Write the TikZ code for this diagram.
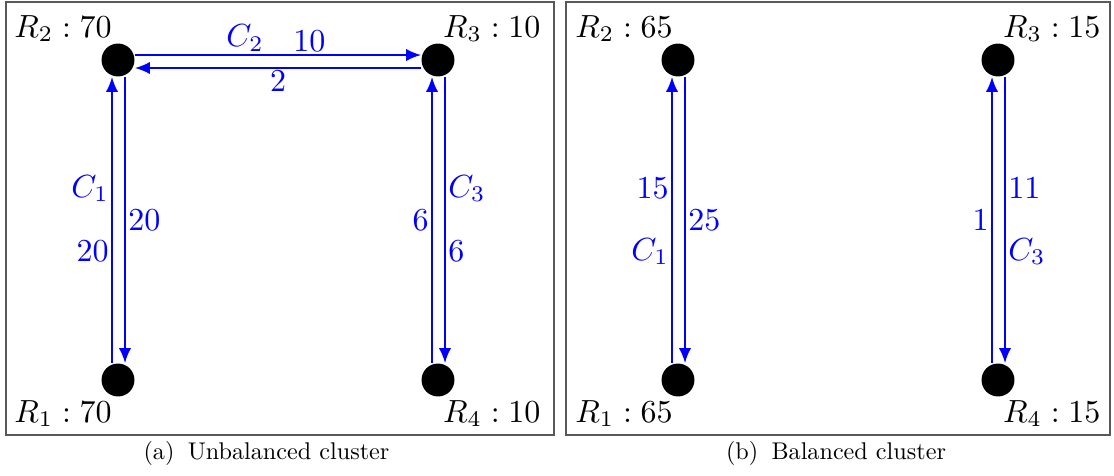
\documentclass[tikz,border=0pt]{standalone}
\usetikzlibrary{arrows.meta,calc}
\newcommand{\lbl}[1]{\scalebox{1.35}{$#1$}}
\begin{document}
\begin{tikzpicture}[x=0.422pt,y=-0.422pt,
  vert/.style={circle,fill=black,inner sep=0pt,minimum size=13.9pt},
  panelframe/.style={draw=black!65,line width=0.45pt},
  rlabel/.style={inner sep=0pt},
  flow/.style={draw=blue,line width=0.8pt,-{Latex[length=6.3pt,width=5.2pt]}},
  elab/.style={text=blue,inner sep=1.2pt},
  captext/.style={inner sep=0pt}]
\useasboundingbox (0,0) rectangle (1114,476);
% frames
\draw[panelframe] (6,2) rectangle (554,435);
\draw[panelframe] (566,2) rectangle (1110,435);
% left panel nodes
\node[vert] (A2) at (118,60) {};
\node[vert] (A3) at (438,60) {};
\node[vert] (A1) at (118,380) {};
\node[vert] (A4) at (438,380) {};
\node[rlabel,anchor=base west] (lA2) at (14,37) {\lbl{R_2:70}};
\node[rlabel,anchor=base east] (lA3) at (541,37) {\lbl{R_3:10}};
\node[rlabel,anchor=base west] (lA1) at (14,422) {\lbl{R_1:70}};
\node[rlabel,anchor=base east] (lA4) at (541,422) {\lbl{R_4:10}};
% left panel edges
\coordinate (a1u) at ($(A1.north)+(-6,0)$);
\coordinate (a2u) at ($(A2.south)+(-6,0)$);
\coordinate (a1d) at ($(A1.north)+(7,0)$);
\coordinate (a2d) at ($(A2.south)+(7,0)$);
\coordinate (a4u) at ($(A4.north)+(-6,0)$);
\coordinate (a3u) at ($(A3.south)+(-6,0)$);
\coordinate (a4d) at ($(A4.north)+(7,0)$);
\coordinate (a3d) at ($(A3.south)+(7,0)$);
\coordinate (a2r) at ($(A2.east)+(0,-5)$);
\coordinate (a3r) at ($(A3.west)+(0,-5)$);
\coordinate (a2l) at ($(A2.east)+(0,8)$);
\coordinate (a3l) at ($(A3.west)+(0,8)$);
\draw[flow] (a1u) -- (a2u);
\draw[flow] (a2d) -- (a1d);
\draw[flow] (a2r) -- (a3r);
\draw[flow] (a3l) -- (a2l);
\draw[flow] (a4u) -- (a3u);
\draw[flow] (a3d) -- (a4d);
\path (a1u) -- node[pos=0.39,elab,anchor=east]{\lbl{20}} node[pos=0.61,elab,anchor=east]{\lbl{C_1}} (a2u);
\path (a2d) -- node[pos=0.5,elab,anchor=west]{\lbl{20}} (a1d);
\path (a2r) -- node[pos=0.385,elab,anchor=south]{\lbl{C_2}} node[pos=0.61,elab,anchor=south]{\lbl{10}} (a3r);
\path (a3l) -- node[pos=0.5,elab,anchor=north]{\lbl{2}} (a2l);
\path (a4u) -- node[pos=0.5,elab,anchor=east]{\lbl{6}} (a3u);
\path (a3d) -- node[pos=0.39,elab,anchor=west]{\lbl{C_3}} node[pos=0.61,elab,anchor=west]{\lbl{6}} (a4d);
% right panel nodes
\node[vert] (B2) at (678,60) {};
\node[vert] (B3) at (998,60) {};
\node[vert] (B1) at (678,380) {};
\node[vert] (B4) at (998,380) {};
\node[rlabel,anchor=base west] (lB2) at (575,37) {\lbl{R_2:65}};
\node[rlabel,anchor=base east] (lB3) at (1101,37) {\lbl{R_3:15}};
\node[rlabel,anchor=base west] (lB1) at (575,422) {\lbl{R_1:65}};
\node[rlabel,anchor=base east] (lB4) at (1101,422) {\lbl{R_4:15}};
% right panel edges
\coordinate (b1u) at ($(B1.north)+(-6,0)$);
\coordinate (b2u) at ($(B2.south)+(-6,0)$);
\coordinate (b1d) at ($(B1.north)+(7,0)$);
\coordinate (b2d) at ($(B2.south)+(7,0)$);
\coordinate (b4u) at ($(B4.north)+(-6,0)$);
\coordinate (b3u) at ($(B3.south)+(-6,0)$);
\coordinate (b4d) at ($(B4.north)+(7,0)$);
\coordinate (b3d) at ($(B3.south)+(7,0)$);
\draw[flow] (b1u) -- (b2u);
\draw[flow] (b2d) -- (b1d);
\draw[flow] (b4u) -- (b3u);
\draw[flow] (b3d) -- (b4d);
\path (b1u) -- node[pos=0.39,elab,anchor=east]{\lbl{C_1}} node[pos=0.61,elab,anchor=east]{\lbl{15}} (b2u);
\path (b2d) -- node[pos=0.5,elab,anchor=west]{\lbl{25}} (b1d);
\path (b4u) -- node[pos=0.5,elab,anchor=east]{\lbl{1}} (b3u);
\path (b3d) -- node[pos=0.39,elab,anchor=west]{\lbl{11}} node[pos=0.61,elab,anchor=west]{\lbl{C_3}} (b4d);
% captions
\node[captext,anchor=base] (capA) at (266.5,459) {\scalebox{1.02}{(a)\hspace{5.5pt}Unbalanced cluster}};
\node[captext,anchor=base] (capB) at (836,459) {\scalebox{1.02}{(b)\hspace{5.5pt}Balanced cluster}};
\end{tikzpicture}
\end{document}
